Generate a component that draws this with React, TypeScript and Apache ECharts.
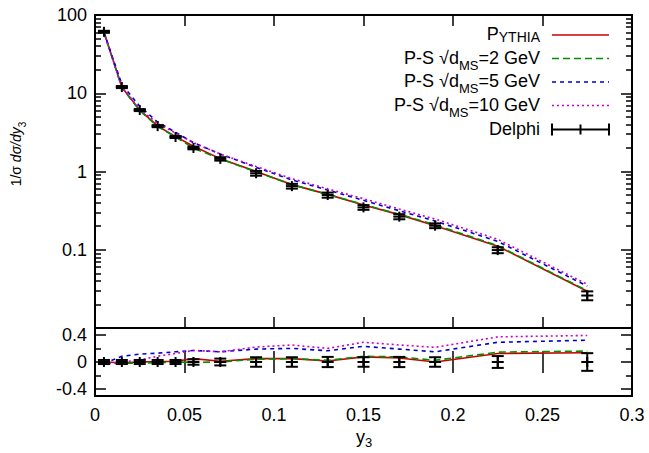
import React, { useEffect, useRef } from 'react';
import * as echarts from 'echarts';

const F = '"Liberation Sans", Arial, Helvetica, sans-serif';

// bin centres (y3)
const xs = [0.005, 0.015, 0.025, 0.035, 0.045, 0.055, 0.07, 0.09, 0.11, 0.13, 0.15, 0.17, 0.19, 0.225, 0.275];
// Delphi data and relative errors
const delphi = [61, 12, 6.1, 3.8, 2.76, 2.0, 1.45, 0.95, 0.65, 0.50, 0.348, 0.265, 0.203, 0.099, 0.026];
const delphiRelErr = [0.03, 0.03, 0.03, 0.03, 0.03, 0.04, 0.05, 0.07, 0.07, 0.075, 0.07, 0.075, 0.07, 0.087, 0.13];
// MC predictions (top panel)
const pythia = [61, 11.9, 6.1, 3.82, 2.79, 2.1, 1.46, 1.0, 0.68, 0.51, 0.374, 0.281, 0.203, 0.111, 0.0295];
const ps2 = [59.8, 11.8, 6.0, 3.76, 2.76, 1.99, 1.45, 0.99, 0.68, 0.51, 0.378, 0.285, 0.208, 0.113, 0.030];
const ps5 = [59.8, 13.0, 6.8, 4.29, 3.17, 2.34, 1.67, 1.13, 0.78, 0.58, 0.428, 0.315, 0.233, 0.128, 0.0343];
const ps10 = [59.2, 12.0, 6.28, 4.12, 3.1, 2.34, 1.67, 1.16, 0.81, 0.60, 0.449, 0.331, 0.247, 0.136, 0.0361];
// (MC - data)/data (bottom panel)
const rPythia = [0, -0.01, 0, 0.005, 0.01, 0.05, 0.01, 0.05, 0.05, 0.015, 0.075, 0.06, 0.0, 0.125, 0.135];
const rPs2 = [-0.02, -0.02, -0.015, -0.01, 0, -0.005, 0, 0.04, 0.05, 0.025, 0.085, 0.075, 0.025, 0.145, 0.16];
const rPs5 = [-0.02, 0.085, 0.115, 0.13, 0.15, 0.17, 0.15, 0.19, 0.2, 0.165, 0.23, 0.19, 0.15, 0.29, 0.32];
const rPs10 = [-0.03, 0, 0.03, 0.085, 0.125, 0.17, 0.15, 0.22, 0.25, 0.2, 0.29, 0.25, 0.215, 0.37, 0.39];

// tick values
const ratioMajor = [-0.4, 0, 0.4];
const ratioMinor = [-0.2, 0.2];
const logMinor: number[] = [];
[0.01, 0.1, 1, 10].forEach((d) => {
  for (let k = 2; k <= 9; k++) logMinor.push(+(k * d).toPrecision(3));
});

const RED = '#cc0000';
const GREEN = '#009000';
const BLUE = '#0000cc';
const MAG = '#cc00cc';
const DASH_G = [7, 4];
const DASH_B = [4, 4];
const DASH_M = [2, 3];

export default function App() {
  const ref = useRef<HTMLDivElement>(null);
  useEffect(() => {
    if (!ref.current) return;
    const chart = echarts.init(ref.current, undefined, { renderer: 'svg' });
    const tickLine = { color: '#000', width: 1.5 };
    const lbl = { fontSize: 18, color: '#000', fontFamily: F, margin: 8 };
    const xBase = (grid: number, pos: string, labels: boolean) => ({
      gridIndex: grid, type: 'value', min: 0, max: 0.3, interval: 0.05, position: pos,
      axisLine: { show: false }, splitLine: { show: false },
      axisTick: { show: true, inside: true, length: 11, lineStyle: tickLine },
      axisLabel: labels ? { ...lbl, margin: 10 } : { show: false },
    });
    const logAxis = (pos: string, minor: boolean, labels: boolean) => ({
      gridIndex: 0, type: 'log', logBase: 10, min: 0.01, max: 100, position: pos,
      axisLine: { show: false }, splitLine: { show: false },
      axisTick: minor
        ? { show: true, inside: true, length: 6, lineStyle: tickLine, customValues: logMinor }
        : { show: true, inside: true, length: 11, lineStyle: tickLine },
      axisLabel: labels ? { ...lbl, showMinLabel: false } : { show: false },
    });
    const ratioAxis = (pos: string, minor: boolean, labels: boolean) => ({
      gridIndex: 1, type: 'value', min: -0.5, max: 0.5, position: pos,
      axisLine: { show: false }, splitLine: { show: false },
      axisTick: { show: true, inside: true, length: minor ? 6 : 11, lineStyle: tickLine, customValues: minor ? ratioMinor : ratioMajor },
      axisLabel: labels ? { ...lbl, customValues: ratioMajor, formatter: (v: number) => String(+v.toFixed(2)) } : { show: false },
    });

    const line = (name: string, vals: number[], color: string, type: any, xi: number, yi: number) => ({
      type: 'line', name, xAxisIndex: xi, yAxisIndex: yi, symbol: 'none', silent: true,
      data: xs.map((x, i) => [x, vals[i]]),
      lineStyle: { color, width: 1.6, type },
    });

    const errRender = (params: any, api: any) => {
      const x = api.value(0), y = api.value(1), lo = api.value(2), hi = api.value(3);
      const c = api.coord([x, y]);
      const cl = api.coord([x, lo]);
      const ch = api.coord([x, hi]);
      const st = { stroke: '#000', lineWidth: 2 };
      const w = 6;
      return {
        type: 'group',
        children: [
          { type: 'line', shape: { x1: c[0], y1: cl[1], x2: c[0], y2: ch[1] }, style: st },
          { type: 'line', shape: { x1: c[0] - w, y1: cl[1], x2: c[0] + w, y2: cl[1] }, style: st },
          { type: 'line', shape: { x1: c[0] - w, y1: ch[1], x2: c[0] + w, y2: ch[1] }, style: st },
          { type: 'line', shape: { x1: c[0] - w, y1: c[1], x2: c[0] + w, y2: c[1] }, style: st },
          { type: 'line', shape: { x1: c[0], y1: c[1] - 5, x2: c[0], y2: c[1] + 5 }, style: st },
        ],
      };
    };

    const txt = (x: number, y: number, text: string, rich: any, align = 'right', rotation = 0) => ({
      type: 'text', x, y, rotation, silent: true,
      style: { text, align, verticalAlign: 'middle', rich },
    });
    const richLeg = {
      a: { fontSize: 18, fontFamily: F, fill: '#000', lineHeight: 20, verticalAlign: 'top' },
      s: { fontSize: 13, fontFamily: F, fill: '#000', lineHeight: 13, padding: [10, 0, 0, 0], verticalAlign: 'top' },
      c: { fontSize: 14, fontFamily: F, fill: '#000', lineHeight: 14, padding: [5, 0, 0, 0], verticalAlign: 'top' },
    };
    const legY = [35, 58.5, 82, 105.5, 129.5];
    const lx1 = 552, lx2 = 609;
    const sample = (y: number, color: string, dash: any) => ({
      type: 'line', silent: true, shape: { x1: lx1, y1: y, x2: lx2, y2: y },
      style: { stroke: color, lineWidth: 1.6, lineDash: dash },
    });
    const blk = { stroke: '#000', lineWidth: 2 };
    const yr = legY[4];

    chart.setOption({
      animation: false,
      grid: [
        { left: 95, right: 17, top: 15, height: 313, show: true, borderColor: '#000', borderWidth: 2, backgroundColor: 'transparent' },
        { left: 95, right: 17, top: 328, height: 68, show: true, borderColor: '#000', borderWidth: 2, backgroundColor: 'transparent' },
      ],
      xAxis: [xBase(0, 'bottom', false), xBase(0, 'top', false), xBase(1, 'bottom', true), xBase(1, 'top', false)],
      yAxis: [
        logAxis('left', false, true), logAxis('left', true, false), logAxis('right', false, false), logAxis('right', true, false),
        ratioAxis('left', false, true), ratioAxis('left', true, false), ratioAxis('right', false, false), ratioAxis('right', true, false),
      ],
      series: [
        line('Pythia', pythia, RED, 'solid', 0, 0),
        line('P-S 2 GeV', ps2, GREEN, DASH_G, 0, 0),
        line('P-S 5 GeV', ps5, BLUE, DASH_B, 0, 0),
        line('P-S 10 GeV', ps10, MAG, DASH_M, 0, 0),
        {
          type: 'custom', name: 'Delphi', xAxisIndex: 0, yAxisIndex: 0, silent: true, z: 5,
          renderItem: errRender,
          data: xs.map((x, i) => [x, delphi[i], delphi[i] * (1 - delphiRelErr[i]), delphi[i] * (1 + delphiRelErr[i])]),
        },
        line('Pythia ratio', rPythia, RED, 'solid', 2, 4),
        line('P-S 2 GeV ratio', rPs2, GREEN, DASH_G, 2, 4),
        line('P-S 5 GeV ratio', rPs5, BLUE, DASH_B, 2, 4),
        line('P-S 10 GeV ratio', rPs10, MAG, DASH_M, 2, 4),
        {
          type: 'custom', name: 'Delphi ratio', xAxisIndex: 2, yAxisIndex: 4, silent: true, z: 5,
          renderItem: errRender,
          data: xs.map((x, i) => [x, 0, -delphiRelErr[i], delphiRelErr[i]]),
        },
      ],
      graphic: [
        txt(540, legY[0], '{a|P}{c|YTHIA}', richLeg),
        txt(540, legY[1], '{a|P-S √d}{s|MS}{a|=2 GeV}', richLeg),
        txt(540, legY[2], '{a|P-S √d}{s|MS}{a|=5 GeV}', richLeg),
        txt(540, legY[3], '{a|P-S √d}{s|MS}{a|=10 GeV}', richLeg),
        txt(540, legY[4], '{a|Delphi}', richLeg),
        sample(legY[0], RED, null),
        sample(legY[1], GREEN, DASH_G),
        sample(legY[2], BLUE, DASH_B),
        sample(legY[3], MAG, DASH_M),
        { type: 'line', silent: true, shape: { x1: lx1, y1: yr, x2: lx2, y2: yr }, style: blk },
        { type: 'line', silent: true, shape: { x1: lx1, y1: yr - 6, x2: lx1, y2: yr + 6 }, style: blk },
        { type: 'line', silent: true, shape: { x1: lx2, y1: yr - 6, x2: lx2, y2: yr + 6 }, style: blk },
        { type: 'line', silent: true, shape: { x1: (lx1 + lx2) / 2, y1: yr - 5, x2: (lx1 + lx2) / 2, y2: yr + 5 }, style: blk },
        txt(364, 438, '{a|y}{s|3}', {
          a: { fontSize: 18, fontFamily: F, fill: '#000', lineHeight: 20, verticalAlign: 'top' },
          s: { fontSize: 13, fontFamily: F, fill: '#000', lineHeight: 13, padding: [8, 0, 0, 0], verticalAlign: 'top' },
        }, 'center'),
        txt(17, 154, '{a|1/σ }{i|dσ/dy}{s|3}', {
          a: { fontSize: 14, fontFamily: F, fill: '#000', lineHeight: 16, verticalAlign: 'top' },
          i: { fontSize: 14, fontFamily: F, fontStyle: 'italic', fill: '#000', lineHeight: 16, verticalAlign: 'top' },
          s: { fontSize: 10, fontFamily: F, fill: '#000', lineHeight: 10, padding: [8, 0, 0, 0], verticalAlign: 'top' },
        }, 'center', Math.PI / 2),
      ],
    });
    return () => chart.dispose();
  }, []);
  return <div ref={ref} style={{ width: 649, height: 453, position: 'absolute', left: 0, top: 0 }} />;
}
